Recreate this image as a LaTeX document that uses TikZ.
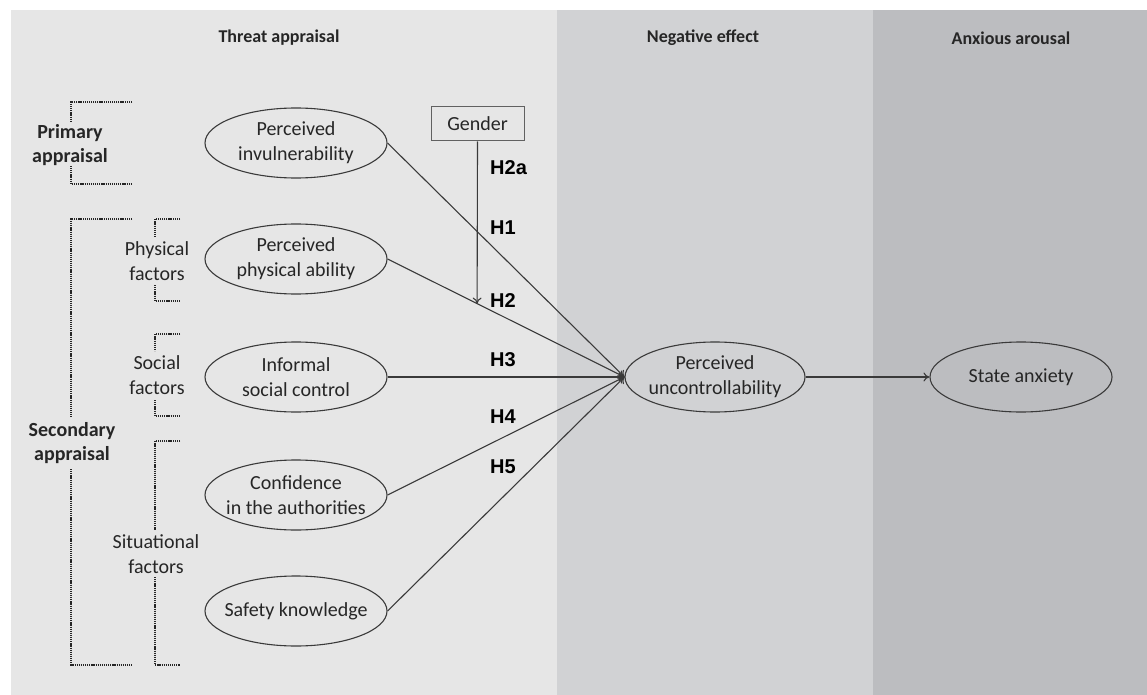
\documentclass[tikz,border=0pt]{standalone}
\usepackage{fontspec}
\setmainfont{Carlito}
\newfontfamily\hfont{Liberation Sans}
\usetikzlibrary{shapes.geometric,arrows.meta}
\definecolor{panelA}{HTML}{E6E6E6}
\definecolor{panelB}{HTML}{D1D2D4}
\definecolor{panelC}{HTML}{BCBDC0}
\definecolor{ink}{HTML}{262626}
\definecolor{wire}{HTML}{3A3A3A}
\begin{document}
\begin{tikzpicture}[x=1pt,y=-1pt,
  every node/.style={text=ink},
  latent/.style={ellipse,draw=wire,line width=1.1pt,minimum width=182pt,minimum height=70pt,
    inner xsep=-16pt,inner ysep=0pt,align=center,font=\fontsize{20}{25}\selectfont},
  obsbox/.style={rectangle,draw=wire!80,line width=1pt,minimum width=93pt,minimum height=34pt,
    inner sep=0pt,font=\fontsize{20}{22}\selectfont},
  header/.style={font=\bfseries\fontsize{18}{20}\selectfont},
  side/.style={align=center,font=\fontsize{20}{25}\selectfont},
  sidebold/.style={align=center,font=\bfseries\fontsize{20}{24}\selectfont},
  hyp/.style={font=\hfont\bfseries\fontsize{20}{22}\selectfont,text=black,anchor=west,inner sep=0pt},
  conn/.style={draw=wire,line width=1.1pt,-{To[length=6pt,width=9pt]}},
  bracket/.style={draw=ink,line width=1.2pt,dash pattern=on 1.2pt off 0.9pt}]

% background panels
\useasboundingbox (0,0) rectangle (1147,695);
\fill[white] (0,0) rectangle (1147,695);
\fill[panelA] (11,10) rectangle (557,695);
\fill[panelB] (557,10) rectangle (873,695);
\fill[panelC] (873,10) rectangle (1147,695);

% column headings
\node[header] (hA) at (279,38) {Threat appraisal};
\node[header] (hB) at (703,38) {Negative effect};
\node[header] (hC) at (1011,38) {Anxious arousal};

% constructs
\node[latent] (pi) at (296,143) {Perceived\\invulnerability};
\node[latent] (pa) at (296,259) {Perceived\\physical ability};
\node[latent] (sc) at (296,377) {Informal\\social control};
\node[latent] (ca) at (296,495) {Confidence\\in the authorities};
\node[latent] (sk) at (296,611) {Safety knowledge};
\node[latent,minimum width=180pt] (pu) at (715,377) {Perceived\\uncontrollability};
\node[latent] (sa) at (1021,377) {State anxiety};
\node[obsbox] (gd) at (477.5,124) {Gender};

% paths
\draw[conn] (pi.east) -- (pu.west);
\draw[conn] (pa.east) -- coordinate[pos=0.378] (hit) (pu.west);
\draw[conn] (sc.east) -- (pu.west);
\draw[conn] (ca.east) -- (pu.west);
\draw[conn] (sk.east) -- (pu.west);
\draw[conn] (pu.east) -- (sa.west);
\draw[conn] (gd.south) -- (hit);

% hypothesis labels
\node[hyp] (h2a) at (490,168) {H2a};
\node[hyp] (h1) at (490,228) {H1};
\node[hyp] (h2) at (490,301) {H2};
\node[hyp] (h3) at (490,360) {H3};
\node[hyp] (h4) at (490,417) {H4};
\node[hyp] (h5) at (490,467) {H5};

% appraisal groups
\node[sidebold] (prim) at (70,145) {Primary\\appraisal};
\draw[bracket] (132,102) -- (71,102) -- (71,121);
\draw[bracket] (71,166) -- (71,184) -- (132,184);

\node[sidebold] (sec) at (72,443) {Secondary\\appraisal};
\draw[bracket] (132,219) -- (71,219) -- (71,417);
\draw[bracket] (71,469) -- (71,665) -- (132,665);

\node[side] (phys) at (157,261) {Physical\\factors};
\draw[bracket] (180,219) -- (155,219) -- (155,237);
\draw[bracket] (155,285) -- (155,301) -- (180,301);

\node[side] (soc) at (157,375) {Social\\factors};
\draw[bracket] (180,334) -- (155,334) -- (155,351);
\draw[bracket] (155,400) -- (155,416) -- (180,416);

\node[side] (sit) at (156,554) {Situational\\factors};
\draw[bracket] (180,441) -- (155,441) -- (155,530);
\draw[bracket] (155,577) -- (155,665) -- (180,665);
\end{tikzpicture}
\end{document}
